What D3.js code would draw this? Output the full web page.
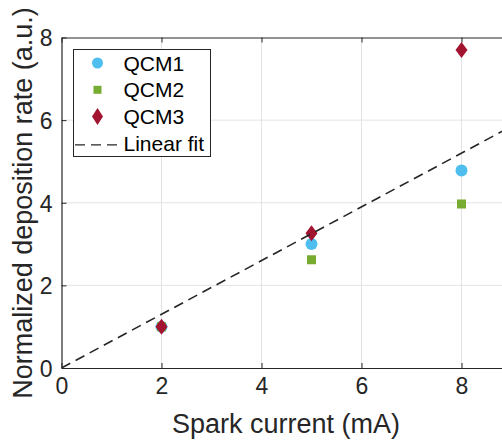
<!DOCTYPE html>
<html>
<head>
<meta charset="utf-8">
<script src="https://cdn.jsdelivr.net/npm/d3@7"></script>
<style>
  html, body { margin: 0; padding: 0; background: #fff; }
  svg { display: block; font-family: "Liberation Sans", Arial, Helvetica, sans-serif; }
</style>
</head>
<body>
<svg id="chart" width="502" height="443"></svg>
<script>
// ---- data ----
const sparkCurrent = [2, 5, 8];
const qcm1 = [1.0, 3.0, 4.78];
const qcm2 = [1.0, 2.62, 3.97];
const qcm3 = [1.0, 3.26, 7.7];
const fitX = [0, 9];
const fitY = [0, 5.85];
const xTicks = [0, 2, 4, 6, 8];
const yTicks = [0, 2, 4, 6, 8];
const seriesNames = ["QCM1", "QCM2", "QCM3", "Linear fit"];
const seriesColors = ["#4DBEEE", "#77AC30", "#A2142F", "#262626"];

// ---- layout ----
const svg = d3.select("#chart");
const W = 502, H = 443;
const mLeft = 61.5, mTop = 37.5, mBottom = 368;
const x = d3.scaleLinear().domain([0, 9]).range([mLeft, mLeft + 450]);
const y = d3.scaleLinear().domain([0, 8]).range([mBottom, mTop]);
const axisColor = "#262626";

// grid
const grid = svg.append("g");
grid.selectAll(".gx").data(xTicks.filter(d => d > 0)).enter().append("line")
  .attr("x1", d => x(d)).attr("x2", d => x(d))
  .attr("y1", mTop).attr("y2", mBottom)
  .attr("stroke", "#e3e3e3").attr("stroke-width", 1);
grid.selectAll(".gy").data(yTicks.filter(d => d > 0 && d < 8)).enter().append("line")
  .attr("x1", mLeft).attr("x2", W)
  .attr("y1", d => y(d)).attr("y2", d => y(d))
  .attr("stroke", "#e3e3e3").attr("stroke-width", 1);

// axes (MATLAB style, inward ticks)
const tickLen = 5;
const xAxisB = d3.axisBottom(x).tickValues(xTicks).tickSizeInner(-tickLen).tickSizeOuter(0).tickPadding(10);
const gxB = svg.append("g").attr("transform", `translate(0,${mBottom})`).call(xAxisB);
const xAxisT = d3.axisTop(x).tickValues(xTicks).tickSizeInner(-tickLen).tickSizeOuter(0).tickFormat("");
const gxT = svg.append("g").attr("transform", `translate(0,${mTop})`).call(xAxisT);
const yAxisL = d3.axisLeft(y).tickValues(yTicks).tickSizeInner(-tickLen).tickSizeOuter(0).tickPadding(9);
const gyL = svg.append("g").attr("transform", `translate(${mLeft},0)`).call(yAxisL);

[gxB, gxT, gyL].forEach(g => {
  g.select(".domain").attr("stroke", axisColor).attr("stroke-width", 1.2);
  g.selectAll(".tick line").attr("stroke", axisColor).attr("stroke-width", 1);
  g.selectAll(".tick text").attr("fill", axisColor)
    .style("font-size", "23px").style("font-family", "'Liberation Sans', Arial, sans-serif");
});
gxB.selectAll(".tick text").attr("dy", "0.71em");
gyL.selectAll(".tick text").attr("dy", "0.36em");

// axis labels
svg.append("text")
  .attr("x", 286).attr("y", 433)
  .attr("text-anchor", "middle")
  .attr("fill", axisColor)
  .style("font-size", "27px")
  .text("Spark current (mA)");
svg.append("text")
  .attr("transform", "translate(32,203) rotate(-90)")
  .attr("text-anchor", "middle")
  .attr("fill", axisColor)
  .style("font-size", "27px")
  .text("Normalized deposition rate (a.u.)");

// clip for plot
svg.append("defs").append("clipPath").attr("id", "clip")
  .append("rect").attr("x", mLeft).attr("y", mTop).attr("width", W - mLeft).attr("height", mBottom - mTop);
const plot = svg.append("g").attr("clip-path", "url(#clip)");

// markers
const diamond = (cx, cy, w, h) => `M${cx},${cy - h / 2}L${cx + w / 2},${cy}L${cx},${cy + h / 2}L${cx - w / 2},${cy}Z`;
const pts = (vals) => sparkCurrent.map((c, i) => ({ c, v: vals[i] }));

plot.selectAll(".q1").data(pts(qcm1)).enter().append("circle")
  .attr("cx", d => x(d.c)).attr("cy", d => y(d.v)).attr("r", 6)
  .attr("fill", seriesColors[0]);
plot.selectAll(".q2").data(pts(qcm2)).enter().append("rect")
  .attr("x", d => x(d.c) - 4.5).attr("y", d => y(d.v) - 4.5)
  .attr("width", 9).attr("height", 9)
  .attr("fill", seriesColors[1]);
plot.selectAll(".q3").data(pts(qcm3)).enter().append("path")
  .attr("d", d => diamond(x(d.c), y(d.v), 12, 16))
  .attr("fill", seriesColors[2]);

// linear fit
const fitData = fitX.map((v, i) => [v, fitY[i]]);
plot.append("path")
  .attr("d", d3.line().x(d => x(d[0])).y(d => y(d[1]))(fitData))
  .attr("fill", "none").attr("stroke", seriesColors[3])
  .attr("stroke-width", 1.6).attr("stroke-dasharray", "10,6");

// legend
const lg = svg.append("g");
lg.append("rect").attr("x", 73.5).attr("y", 49.5).attr("width", 137).attr("height", 107)
  .attr("fill", "#fff").attr("stroke", axisColor).attr("stroke-width", 1);
const rowY = i => 63 + i * 26.8;
lg.append("circle").attr("cx", 97.5).attr("cy", rowY(0)).attr("r", 5.5).attr("fill", seriesColors[0]);
lg.append("rect").attr("x", 93.5).attr("y", rowY(1) - 4).attr("width", 8).attr("height", 8).attr("fill", seriesColors[1]);
lg.append("path").attr("d", diamond(97.5, rowY(2), 11, 17)).attr("fill", seriesColors[2]);
lg.append("line").attr("x1", 75).attr("x2", 123).attr("y1", rowY(3) + 1.5).attr("y2", rowY(3) + 1.5)
  .attr("stroke", seriesColors[3]).attr("stroke-width", 1.3).attr("stroke-dasharray", "10,6");
seriesNames.forEach((n, i) => {
  lg.append("text").attr("x", 123.5).attr("y", rowY(i)).attr("dy", "0.36em")
    .attr("fill", "#000").style("font-size", "21px").text(n);
});
</script>
</body>
</html>
